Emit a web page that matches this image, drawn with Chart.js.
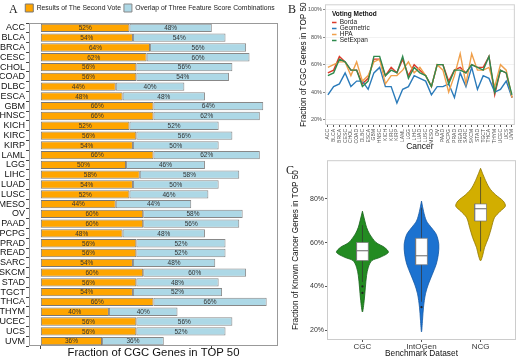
<!DOCTYPE html>
<html>
<head>
<meta charset="utf-8">
<script src="https://cdn.jsdelivr.net/npm/chart.js@4.4.1/dist/chart.umd.min.js"></script>
<style>
  body { margin: 0; background: #fff; }
  #wrap { position: relative; width: 520px; height: 359px; overflow: hidden; }
  canvas { position: absolute; }
  .tag { position: absolute; font-family: "Liberation Serif", serif; font-size: 12px; line-height: 14px; color: #222; }
</style>
</head>
<body>
<div id="wrap">
  <canvas id="chartA" width="285" height="359" style="left:0;top:0"></canvas>
  <canvas id="chartB" width="235" height="155" style="left:285px;top:0"></canvas>
  <canvas id="chartC" width="235" height="204" style="left:285px;top:155px"></canvas>
  <div class="tag" style="left:9px;top:2px">A</div>
  <div class="tag" style="left:288px;top:2px">B</div>
  <div class="tag" style="left:286px;top:163px">C</div>
</div>
<script>
Chart.defaults.font.family = "'Liberation Sans', Arial, sans-serif";

// panel A + B categories
const cancers = ["ACC", "BLCA", "BRCA", "CESC", "CHOL", "COAD", "DLBC", "ESCA", "GBM", "HNSC", "KICH",
    "KIRC", "KIRP", "LAML", "LGG", "LIHC", "LUAD", "LUSC", "MESO", "OV", "PAAD", "PCPG", "PRAD",
    "READ", "SARC", "SKCM", "STAD", "TGCT", "THCA", "THYM", "UCEC", "UCS", "UVM"];

// A: fraction of CGC genes in top 50 (%)
const secondVote = [52, 54, 64, 62, 56, 56, 44, 48, 66, 66, 52, 56, 54, 66, 50, 58, 54, 52, 44, 60, 60, 48,
    56, 56, 54, 60, 56, 54, 66, 40, 56, 56, 36];
const overlapThree = [48, 54, 56, 60, 56, 54, 40, 48, 64, 62, 52, 56, 50, 62, 46, 58, 50, 46, 44, 58, 56, 48,
    52, 52, 48, 60, 48, 52, 66, 40, 56, 52, 36];

// B: voting methods (%)
const borda = [54, 56, 66, 62, 56, 56, 46, 50, 64, 64, 52, 58, 54, 64, 52, 60, 56, 52, 44, 60, 60, 48,
    56, 58, 54, 60, 58, 58, 66, 38, 56, 54, 36];
const geometric = [38, 44, 46, 54, 44, 48, 48, 42, 54, 58, 44, 44, 32, 42, 44, 52, 50, 48, 38, 44, 44, 46,
    36, 54, 44, 58, 42, 52, 50, 40, 42, 48, 36];
const hpa = [58, 60, 62, 62, 52, 62, 48, 52, 62, 64, 46, 52, 52, 56, 62, 54, 58, 52, 44, 60, 56, 40,
    52, 68, 46, 68, 56, 56, 58, 44, 60, 56, 36];
const setExpan = [52, 54, 64, 62, 56, 56, 44, 48, 66, 66, 52, 56, 54, 66, 50, 58, 54, 52, 44, 60, 60, 46,
    56, 56, 54, 60, 58, 56, 66, 40, 56, 54, 38];
const fractionTicks = [20, 40, 60, 80, 100];

// C: violin outlines (level in %, half width in category units), box stats
const benchmarks = ["CGC", "IntOGen", "NCG"];
const cgcLevels = [74.4, 70, 67, 64, 60.1, 57.9, 55.6, 53.3, 51.8, 48.8, 45, 39.7, 33.6, 28.3];
const cgcWidths = [0, 0.04, 0.07, 0.12, 0.23, 0.37, 0.44, 0.3, 0.16, 0.1, 0.07, 0.05, 0.03, 0];
const intogenLevels = [79, 74.4, 69.9, 66.8, 63.8, 59.3, 54.7, 50.2, 45.6, 41.1, 36.6, 30.5, 24.5, 19.2];
const intogenWidths = [0, 0.034, 0.084, 0.17, 0.25, 0.293, 0.285, 0.25, 0.184, 0.117, 0.067, 0.034, 0.017, 0];
const ncgLevels = [94, 89.5, 85, 82, 79, 76.7, 74.4, 71.4, 66.8, 62.3, 57.7, 54, 51.7];
const ncgWidths = [0, 0.067, 0.15, 0.25, 0.385, 0.42, 0.335, 0.235, 0.184, 0.134, 0.067, 0.034, 0];
const q1 = [51.8, 49.9, 69.9];
const median = [56.3, 54, 75.5];
const q3 = [60.1, 62, 77.7];
const whiskerLow = [42, 33, 56];
const whiskerHigh = [68, 76, 90];
const outliers = [[40, 37], [30.5], []];
const C_TICKS = [20, 40, 60, 80];

const frameBox = {
    id: "frameBox",
    beforeDatasetsDraw(chart, args, opts) {
        const a = chart.chartArea;
        const ctx = chart.ctx;
        ctx.save();
        ctx.strokeStyle = opts.color;
        ctx.lineWidth = 1;
        ctx.strokeRect(a.left + 0.5, a.top + 0.5, a.width - 1, a.height - 1);
        ctx.restore();
    },
};

const percentLabels = {
    id: "percentLabels",
    afterDatasetsDraw(chart) {
        const ctx = chart.ctx;
        ctx.save();
        ctx.font = "6.5px 'Liberation Sans', Arial, sans-serif";
        ctx.fillStyle = "#333";
        ctx.textAlign = "center";
        ctx.textBaseline = "middle";
        chart.data.datasets.forEach((ds, i) => {
            chart.getDatasetMeta(i).data.forEach((bar, j) => {
                const p = bar.getProps(["x", "y", "base"], true);
                ctx.fillText(ds.data[j] + "%", (p.x + p.base) / 2, p.y + 0.5);
            });
        });
        ctx.restore();
    },
};

const legendGap = {
    id: "legendGap",
    beforeInit(chart, args, opts) {
        const legend = chart.legend;
        const fit = legend.fit;
        legend.fit = function () {
            fit.call(this);
            this.height += opts.gap;
        };
    },
};

const legendNudge = {
    id: "legendNudge",
    afterLayout(chart, args, opts) {
        chart.legend.left += opts.dx;
        chart.legend.top += opts.dy;
    },
};

// ---------- A ----------
new Chart(document.getElementById("chartA"), {
    type: "bar",
    data: {
        labels: cancers,
        datasets: [
            {
                label: "Results of The Second Vote",
                data: secondVote,
                backgroundColor: "#FFA500",
                borderColor: "#777",
            },
            {
                label: "Overlap of Three Feature Score Combinations",
                data: overlapThree,
                backgroundColor: "#ADD8E6",
                borderColor: "#888",
            },
        ],
    },
    options: {
        indexAxis: "y",
        responsive: false,
        animation: false,
        datasets: { bar: { borderWidth: 1, borderSkipped: false, barPercentage: 0.85, categoryPercentage: 1 } },
        layout: { padding: { top: 1, right: 7, bottom: 0, left: 0 } },
        scales: {
            x: {
                stacked: true,
                min: -6.6,
                max: 138.6,
                afterBuildTicks: (s) => { s.ticks = [{ value: 0 }, { value: 100 }]; },
                ticks: { display: false },
                grid: { drawOnChartArea: false, tickLength: 3, color: "#444" },
                border: { display: false },
                title: {
                    display: true,
                    text: "Fraction of CGC Genes in TOP 50",
                    font: { size: 11.3, lineHeight: 1 },
                    color: "#111",
                    padding: { top: 0, bottom: 0 },
                },
                afterFit: (s) => { s.height = 13; },
            },
            y: {
                stacked: true,
                ticks: { autoSkip: false, font: { size: 9 }, color: "#111", padding: 1 },
                grid: { drawOnChartArea: false, tickLength: 3, color: "#444" },
                border: { display: false },
                afterFit: (s) => { s.width = 29; },
            },
        },
        plugins: {
            legend: {
                labels: { boxWidth: 8, boxHeight: 8, padding: 3, font: { size: 6.8 }, color: "#222" },
            },
            tooltip: { enabled: false },
            frameBox: { color: "#999" },
            legendGap: { gap: 1 },
            legendNudge: { dx: 22, dy: 0 },
        },
    },
    plugins: [percentLabels, frameBox, legendGap, legendNudge],
});

// ---------- B ----------
new Chart(document.getElementById("chartB"), {
    type: "line",
    data: {
        labels: cancers,
        datasets: [
            { label: "Borda", data: borda, borderColor: "#DC3A2A", backgroundColor: "#DC3A2A", order: 3 },
            { label: "Geometric", data: geometric, borderColor: "#2B7BBA", backgroundColor: "#2B7BBA", order: 2 },
            { label: "HPA", data: hpa, borderColor: "#F0A04B", backgroundColor: "#F0A04B", order: 1 },
            { label: "SetExpan", data: setExpan, borderColor: "#2F8A4E", backgroundColor: "#2F8A4E", order: 0 },
        ],
    },
    options: {
        responsive: false,
        animation: false,
        datasets: { line: { borderWidth: 1.4, pointRadius: 0, tension: 0 } },
        layout: { padding: { left: 14, right: 2, top: 4, bottom: 0 } },
        scales: {
            x: {
                offset: true,
                ticks: { autoSkip: false, maxRotation: 90, minRotation: 90, font: { size: 5 }, color: "#4d4d4d", padding: 2 },
                grid: { drawOnChartArea: false, tickLength: 2, color: "#555" },
                border: { display: false },
                title: {
                    display: true,
                    text: "Cancer",
                    font: { size: 8.5 },
                    color: "#111",
                    padding: { top: 0, bottom: 3 },
                },
                afterFit: (s) => { s.height = 30; },
            },
            y: {
                min: 16,
                max: 104,
                afterBuildTicks: (s) => { s.ticks = fractionTicks.map((v) => ({ value: v })); },
                ticks: { callback: (v) => v + "%", font: { size: 5.5 }, color: "#4d4d4d", padding: 1 },
                grid: { color: "#ececec", lineWidth: 0.7, tickLength: 2, tickColor: "#555" },
                border: { display: false },
                title: {
                    display: true,
                    text: "Fraction of CGC Genes in TOP 50",
                    font: { size: 8.2 },
                    color: "#111",
                    padding: { top: 0, bottom: 0 },
                },
                afterFit: (s) => { s.width = 26; },
            },
        },
        plugins: {
            legend: {
                position: "chartArea",
                align: "start",
                title: {
                    display: true,
                    text: "Voting Method",
                    position: "start",
                    font: { size: 6.5, weight: "bold" },
                    color: "#111",
                    padding: { top: 2, bottom: 1 },
                },
                labels: {
                    sort: (a, b) => a.datasetIndex - b.datasetIndex,
                    usePointStyle: true,
                    pointStyle: "line",
                    pointStyleWidth: 5,
                    boxHeight: 5,
                    padding: -0.5,
                    font: { size: 6.5 },
                    color: "#222",
                },
            },
            tooltip: { enabled: false },
            frameBox: { color: "#d0d0d0" },
            legendNudge: { dx: 7, dy: 9 },
        },
    },
    plugins: [frameBox, legendNudge],
});

// ---------- C ----------
const violinFill = ["#238B22", "#1C72D0", "#D2AE00"];
const violinEdge = ["#17621a", "#1458a3", "#8f7600"];
const shapes = [
    [cgcLevels, cgcWidths],
    [intogenLevels, intogenWidths],
    [ncgLevels, ncgWidths],
];
const BOX_HALF = 0.1;

function outline(center, levels, widths) {
    const right = levels.map((y, k) => ({ x: center + widths[k], y: y }));
    const left = levels.map((y, k) => ({ x: center - widths[k], y: y })).reverse().slice(1);
    return right.concat(left);
}

const cDatasets = [];
benchmarks.forEach((name, i) => {
    const c = i + 1;
    cDatasets.push({
        label: name,
        data: outline(c, shapes[i][0], shapes[i][1]),
        showLine: true,
        fill: "shape",
        tension: 0.3,
        backgroundColor: violinFill[i],
        borderColor: violinEdge[i],
        borderWidth: 0.8,
        pointRadius: 0,
        order: 4,
    });
    cDatasets.push({
        label: name + " whisker",
        data: [{ x: c, y: whiskerLow[i] }, { x: c, y: whiskerHigh[i] }],
        showLine: true,
        borderColor: "#333",
        borderWidth: 0.7,
        pointRadius: 0,
        order: 3,
    });
    cDatasets.push({
        label: name + " box",
        data: [
            { x: c - BOX_HALF, y: q1[i] },
            { x: c + BOX_HALF, y: q1[i] },
            { x: c + BOX_HALF, y: q3[i] },
            { x: c - BOX_HALF, y: q3[i] },
            { x: c - BOX_HALF, y: q1[i] },
        ],
        showLine: true,
        fill: "shape",
        backgroundColor: "#ffffff",
        borderColor: "#777",
        borderWidth: 0.7,
        pointRadius: 0,
        order: 2,
    });
    cDatasets.push({
        label: name + " median",
        data: [{ x: c - BOX_HALF, y: median[i] }, { x: c + BOX_HALF, y: median[i] }],
        showLine: true,
        borderColor: "#666",
        borderWidth: 1,
        pointRadius: 0,
        order: 1,
    });
    cDatasets.push({
        label: name + " outliers",
        data: outliers[i].map((y) => ({ x: c, y: y })),
        pointRadius: 1.1,
        pointBackgroundColor: "#222",
        pointBorderWidth: 0,
        order: 0,
    });
});

new Chart(document.getElementById("chartC"), {
    type: "scatter",
    data: { datasets: cDatasets },
    options: {
        responsive: false,
        animation: false,
        layout: { padding: { left: 6, right: 2, top: 4, bottom: 0 } },
        scales: {
            x: {
                type: "linear",
                min: 0.4,
                max: 3.6,
                afterBuildTicks: (s) => { s.ticks = benchmarks.map((_, i) => ({ value: i + 1 })); },
                ticks: { callback: (v) => benchmarks[v - 1], font: { size: 8 }, color: "#333", padding: 0, maxRotation: 0 },
                grid: { drawOnChartArea: false, tickLength: 2, color: "#555" },
                border: { display: false },
                title: {
                    display: true,
                    text: "Benchmark Dataset",
                    font: { size: 8.3 },
                    color: "#111",
                    padding: { top: 0, bottom: 0 },
                },
                afterFit: (s) => { s.height = 19; },
            },
            y: {
                min: 15.5,
                max: 97.7,
                afterBuildTicks: (s) => { s.ticks = C_TICKS.map((v) => ({ value: v })); },
                ticks: { callback: (v) => v + "%", font: { size: 7 }, color: "#333", padding: 1 },
                grid: { drawOnChartArea: false, tickLength: 2, color: "#555" },
                border: { display: false },
                title: {
                    display: true,
                    text: "Fraction of Known Cancer Genes in TOP 50",
                    font: { size: 8.2 },
                    color: "#111",
                    padding: { top: 0, bottom: 0 },
                },
                afterFit: (s) => { s.width = 36; },
            },
        },
        plugins: {
            legend: { display: false },
            tooltip: { enabled: false },
            frameBox: { color: "#cccccc" },
        },
    },
    plugins: [frameBox],
});
</script>
</body>
</html>
